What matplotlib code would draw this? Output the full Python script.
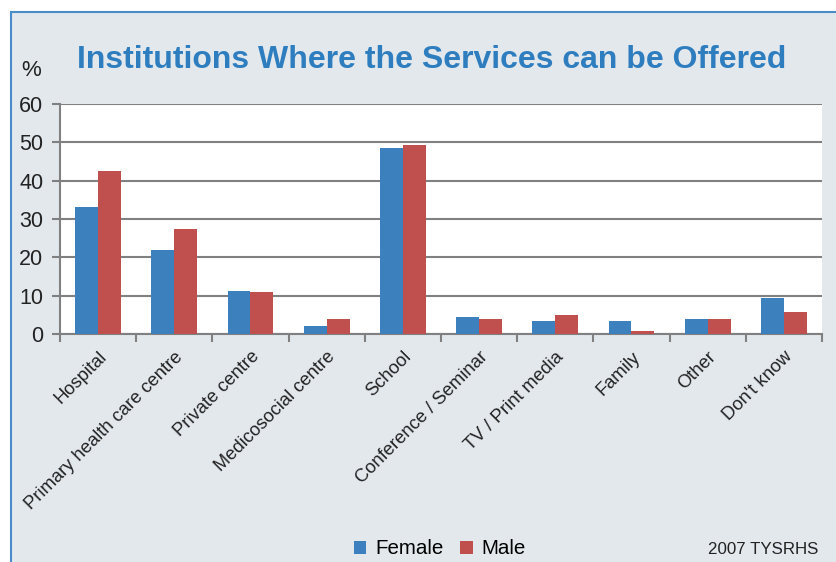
import matplotlib
matplotlib.use("Agg")
from matplotlib import pyplot as plt
from matplotlib.patches import Rectangle
import numpy as np

plt.rcParams['font.family'] = ['Liberation Sans', 'DejaVu Sans']

categories = ['Hospital', 'Primary health care centre', 'Private centre',
              'Medicosocial centre', 'School', 'Conference / Seminar',
              'TV / Print media', 'Family', 'Other', "Don't know"]
female = [33, 22, 11.3, 2.2, 48.5, 4.5, 3.5, 3.5, 4, 9.4]
male = [42.5, 27.4, 11, 4, 49.3, 4, 5, 0.9, 4, 5.8]

blue = '#3D80BE'
red = '#C0504D'
grey = '#808080'
bg = '#E3E8ED'

fig = plt.figure(figsize=(8.37, 5.62), dpi=100, facecolor='white')
fig.patches.append(Rectangle((11/837, -0.1), 1.0, (550/562) + 0.1,
                             transform=fig.transFigure, facecolor=bg,
                             edgecolor='#4A8CC8', linewidth=1.5, zorder=-10))

ax = fig.add_axes([60/837, (562-334.3)/562, (822-60)/837, (334.3-103.7)/562])
ax.set_facecolor('white')

x = np.arange(len(categories))
w = 0.3
ax.bar(x - w/2, female, w, color=blue, label='Female', zorder=3)
ax.bar(x + w/2, male, w, color=red, label='Male', zorder=3)

ax.set_xlim(-0.5, len(categories) - 0.5)
ax.set_ylim(0, 60)
ax.set_yticks(range(0, 61, 10))
ax.yaxis.grid(True, color=grey, linewidth=1.5, zorder=1)
ax.tick_params(axis='y', direction='out', length=6, width=1.5, color=grey,
               labelsize=15.5, pad=6, labelcolor='#222222')

ax.set_xticks(x)
ax.set_xticklabels(categories, rotation=45, ha='right', rotation_mode='anchor',
                   fontsize=13.2, color='#222222')
ax.tick_params(axis='x', which='major', length=0, pad=10)
ax.set_xticks(np.arange(-0.5, len(categories), 1), minor=True)
ax.tick_params(axis='x', which='minor', direction='out', length=6, width=1.5,
               color=grey)

for s in ['top', 'right']:
    ax.spines[s].set_visible(False)
for s in ['left', 'bottom']:
    ax.spines[s].set_color(grey)
    ax.spines[s].set_linewidth(1.5)

fig.text(432/837, 1 - 60/562, 'Institutions Where the Services can be Offered',
         ha='center', va='center', fontsize=23, fontweight='bold', color='#2E7EBF')
fig.text(31/837, 1 - 70/562, '%', ha='center', va='center', fontsize=16, color='#222222')

ax.legend(loc='center', bbox_to_anchor=(440/837, 1 - 549/562),
          bbox_transform=fig.transFigure, ncol=2, frameon=False, fontsize=14.8,
          handlelength=0.6, handleheight=0.6, handletextpad=0.45, columnspacing=0.8)
fig.text(818/837, 1 - 550/562, '2007 TYSRHS', ha='right', va='center',
         fontsize=12.2, color='#222222')

fig.savefig('out.png', dpi=100, facecolor=fig.get_facecolor())
